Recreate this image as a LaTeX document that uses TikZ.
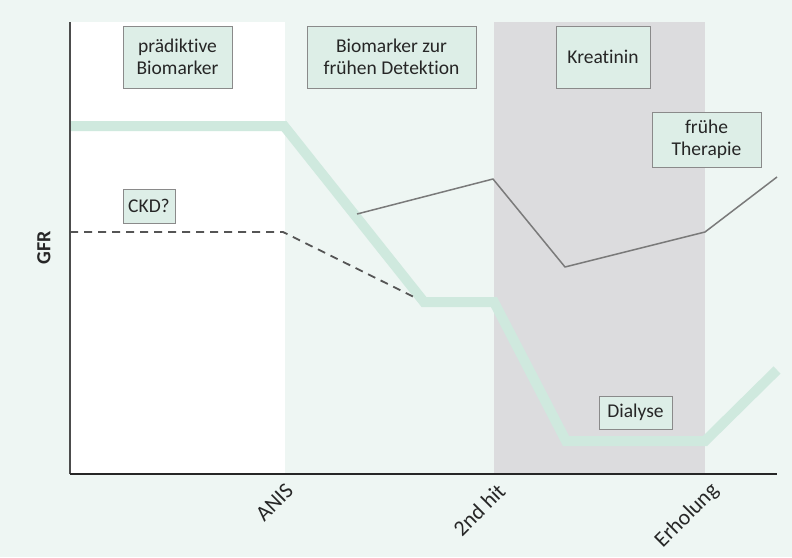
\documentclass[tikz,border=0pt]{standalone}
\usepackage{fontspec}
\setmainfont[Ligatures=NoCommon]{Carlito}
\definecolor{bgmint}{HTML}{EEF6F3}
\definecolor{boxfill}{HTML}{DDEEE7}
\definecolor{boxline}{HTML}{8A8A8A}
\definecolor{grayband}{HTML}{DCDCDE}
\definecolor{thickmint}{HTML}{CFE9DE}
\definecolor{curvegray}{HTML}{7A7A7A}
\definecolor{dashgray}{HTML}{555555}
\begin{document}
\begin{tikzpicture}[x=1pt,y=-1pt,
  labelbox/.style={draw=boxline,fill=boxfill,line width=0.8pt,align=center,
    font=\fontsize{19.5}{22.5}\selectfont,text=black!85,inner sep=0pt},
  ticklabel/.style={rotate=45,anchor=east,inner sep=2pt,font=\fontsize{22}{24}\selectfont,text=black!85},
  gfrline/.style={line width=10pt,color=thickmint,line join=miter},
  ckdline/.style={line width=1.8pt,color=dashgray,dash pattern=on 8pt off 6pt},
  markerline/.style={line width=1.5pt,color=curvegray}]
\useasboundingbox (0,0) rectangle (792,557);
\fill[bgmint] (0,0) rectangle (792,557);
\fill[white] (70,22) rectangle (285,474);
\fill[grayband] (494,22) rectangle (705,474);
% thick GFR course
\coordinate (g0) at (70,126);
\coordinate (g1) at (284,126);
\coordinate (g2) at (424,302);
\coordinate (g3) at (494,302);
\coordinate (g4) at (566,441);
\coordinate (g5) at (705,441);
\coordinate (g6) at (777,370);
\draw[gfrline] (g0) -- (g1) -- (g2) -- (g3) -- (g4) -- (g5) -- (g6);
% dashed CKD
\coordinate (c0) at (70,232);
\coordinate (c1) at (283,232);
\coordinate (c2) at (414,297);
\draw[ckdline] (c0) -- (c1) -- (c2);
% gray biomarker line
\coordinate (m0) at (357,214);
\coordinate (m1) at (493,179);
\coordinate (m2) at (565,267);
\coordinate (m3) at (705,232);
\coordinate (m4) at (777,177);
\draw[markerline,line join=round] (m0) -- (m1) -- (m2) -- (m3) -- (m4);
% axes
\coordinate (o) at (70,474);
\coordinate (ytop) at (70,22);
\coordinate (xend) at (777,474);
\draw[line width=1.2pt,color=black!70] (ytop) -- (o);
\draw[line width=1.2pt,color=black!85] (o) -- (xend);
\node[rotate=90,font=\fontsize{20}{22}\selectfont\bfseries,text=black!85] (gfr) at (44,248) {GFR};
% boxes
\node[labelbox,minimum width=109pt,minimum height=62pt] (pred) at (177.5,57) {prädiktive\\Biomarker};
\node[labelbox,minimum width=169pt,minimum height=62pt] (det) at (391.5,57) {Biomarker zur\\frühen Detektion};
\node[labelbox,minimum width=94pt,minimum height=62pt] (krea) at (603,57) {Kreatinin};
\node[labelbox,minimum width=109pt,minimum height=55pt] (ther) at (706.5,139.5) {frühe\\Therapie};
\node[labelbox,minimum width=52pt,minimum height=34pt] (ckd) at (149,206) {CKD?};
\node[labelbox,minimum width=73pt,minimum height=33pt] (dial) at (635.5,412.5) {Dialyse};
% tick labels
\node[ticklabel] (anis) at (291,486) {ANIS};
\node[ticklabel] (hit) at (503,486) {2nd hit};
\node[ticklabel] (erh) at (717,486) {Erholung};
\end{tikzpicture}
\end{document}
